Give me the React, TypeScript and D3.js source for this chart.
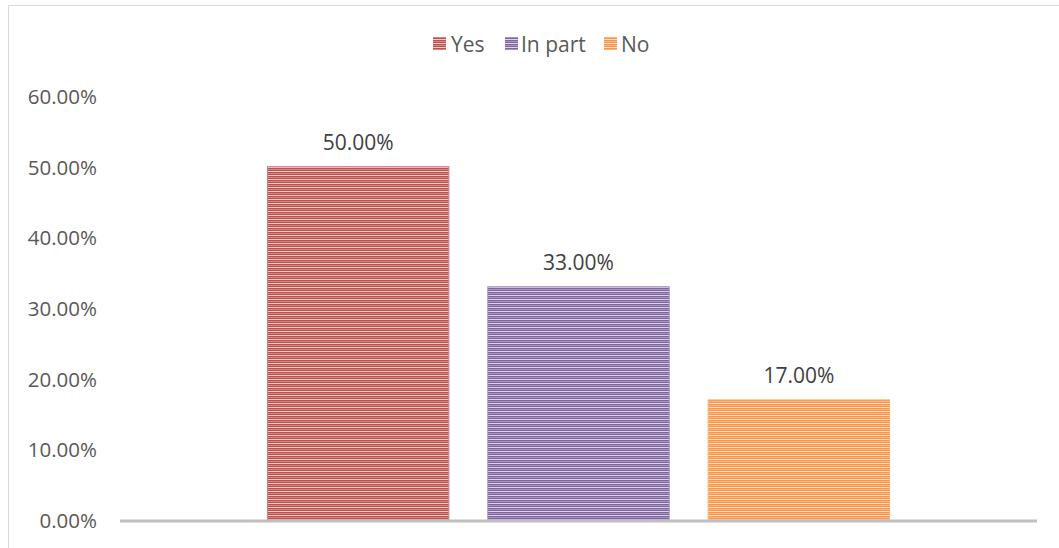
import React, { useEffect } from "react";
import * as d3 from "d3";

const categories = ["Yes", "In part", "No"];
const values = [0.5, 0.33, 0.17];
const colors = ["#c0504d", "#8064a2", "#f79646"];
const yTicks = [0, 0.1, 0.2, 0.3, 0.4, 0.5, 0.6];

const W = 1059;
const H = 548;
const FONT = "'Open Sans', 'Noto Sans', sans-serif";

export default function App() {
  useEffect(() => {
    document.body.style.margin = "0";
  }, []);

  const plotLeft = 120;
  const plotRight = 1037;
  const y = d3.scaleLinear().domain([0, 0.6]).range([520, 96]);
  const groupCenter = (plotLeft + plotRight) / 2;
  const groupWidth = 622;
  const x = d3
    .scaleBand<string>()
    .domain(categories)
    .range([groupCenter - groupWidth / 2, groupCenter + groupWidth / 2])
    .paddingInner(0.177)
    .paddingOuter(0);
  const fmt = (v: number) => (v * 100).toFixed(2) + "%";

  const mix = (c: string, t: number) => d3.interpolateRgb(c, "#ffffff")(t);

  const legendItems = [
    { sq: 433, tx: 451 },
    { sq: 505, tx: 521 },
    { sq: 604, tx: 621 },
  ];

  return (
    <svg width={W} height={H} style={{ display: "block", background: "#fff" }}>
      <defs>
        {colors.map((c, i) => (
          <pattern key={i} id={`pat${i}`} width={8} height={4} patternUnits="userSpaceOnUse">
            <rect x={0} y={0} width={8} height={4} fill={mix(c, 0.0)} />
            <rect x={0} y={1} width={8} height={1} fill={mix(c, 0.3)} />
            <rect x={0} y={3} width={8} height={1} fill={mix(c, 0.72)} />
          </pattern>
        ))}
      </defs>
      <rect x={8.5} y={5.5} width={W + 20} height={H + 20} fill="#fff" stroke="#d9d9d9" strokeWidth={1} />

      {categories.map((c, i) => (
        <g key={c}>
          <rect x={legendItems[i].sq} y={37} width={13} height={13} fill={`url(#pat${i})`} />
          <text
            x={legendItems[i].tx}
            y={43.5}
            dominantBaseline="central"
            fontFamily={FONT}
            fontSize={21}
            fill="#595959"
          >
            {c}
          </text>
        </g>
      ))}

      {yTicks.map((t) => (
        <text
          key={t}
          x={97}
          y={y(t)}
          textAnchor="end"
          dominantBaseline="central"
          fontFamily={FONT}
          fontSize={20.5}
          fill="#595959"
        >
          {fmt(t)}
        </text>
      ))}

      {categories.map((c, i) => (
        <rect
          key={c}
          x={x(c)!}
          y={y(values[i])}
          width={x.bandwidth()}
          height={y(0) - y(values[i])}
          fill={`url(#pat${i})`}
          stroke={mix(colors[i], 0.25)}
          strokeWidth={1}
        />
      ))}

      {categories.map((c, i) => (
        <text
          key={c}
          x={x(c)! + x.bandwidth() / 2}
          y={y(values[i]) - 25}
          textAnchor="middle"
          dominantBaseline="central"
          fontFamily={FONT}
          fontSize={21}
          fill="#404040"
        >
          {fmt(values[i])}
        </text>
      ))}

      <line x1={plotLeft} x2={plotRight} y1={y(0) + 1} y2={y(0) + 1} stroke="#bfbfbf" strokeWidth={3} />
    </svg>
  );
}
